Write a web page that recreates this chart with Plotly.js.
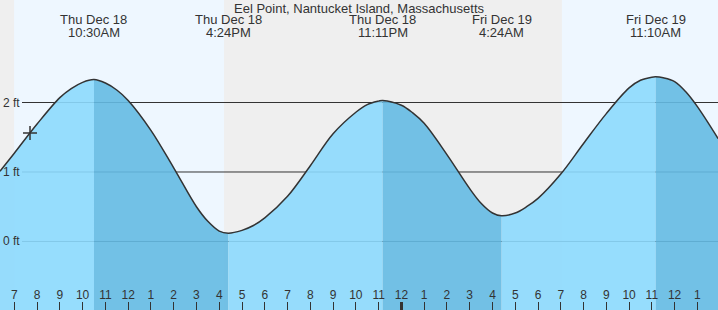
<!DOCTYPE html>
<html>
<head>
<meta charset="utf-8">
<script src="https://cdn.plot.ly/plotly-3.0.1.min.js"></script>
<style>
html,body{margin:0;padding:0;background:#efefef;}
#chart{width:718px;height:310px;}
</style>
</head>
<body>
<div id="chart"></div>
<script>
// Hours since midnight Thu Dec 18 (values > 24 are Fri Dec 19)
const times  = [6.37, 7, 8, 9, 9.5, 10, 10.5, 11, 11.5, 12, 13, 14, 15, 15.5, 16, 16.4, 17, 17.5, 18, 19, 20, 21, 22, 22.5, 23, 23.18, 24, 24.5, 25, 26, 27, 27.5, 28, 28.4, 29, 29.5, 30, 31, 32, 33, 34, 34.5, 35, 35.17, 35.5, 36, 36.5, 37, 37.91];
const levels = [1.01, 1.27, 1.69, 2.07, 2.20, 2.29, 2.33, 2.28, 2.18, 2.03, 1.60, 1.06, 0.50, 0.29, 0.15, 0.12, 0.16, 0.23, 0.34, 0.65, 1.09, 1.55, 1.86, 1.97, 2.02, 2.03, 1.96, 1.85, 1.70, 1.25, 0.76, 0.55, 0.41, 0.37, 0.41, 0.50, 0.62, 0.97, 1.41, 1.84, 2.21, 2.32, 2.365, 2.37, 2.355, 2.30, 2.15, 1.94, 1.48];

// High / low tide events
const eventTimes = [10.5, 16.4, 23.18, 28.4, 35.17];
const eventDays  = ["Thu Dec 18", "Thu Dec 18", "Thu Dec 18", "Fri Dec 19", "Fri Dec 19"];
const eventClock = ["10:30AM", "4:24PM", "11:11PM", "4:24AM", "11:10AM"];
const eventType  = ["high", "low", "high", "low", "high"];

// Daylight periods (sunrise, sunset)
const sunrise = [6.99, 31.05];
const sunset  = [16.21, 40];

// Current time marker
const nowTime  = [7.69];
const nowLevel = [1.56];

// Axis ticks
const tickHours  = [7,8,9,10,11,12,13,14,15,16,17,18,19,20,21,22,23,24,25,26,27,28,29,30,31,32,33,34,35,36,37];
const tickLabels = ["7","8","9","10","11","12","1","2","3","4","5","6","7","8","9","10","11","12","1","2","3","4","5","6","7","8","9","10","11","12","1"];
const midnight = [24];
const levelTicks = [0, 1, 2];
const levelLabels = ["0 ft", "1 ft", "2 ft"];

const title = "Eel Point, Nantucket Island, Massachusetts";

const xRange = [6.372, 37.905];
const yRange = [-0.986, 3.475];
const FLOOR = -3;
const SMOOTH = 1;
const lightFill = "rgba(140,217,253,0.9)";
const darkFill  = "rgba(100,186,227,0.9)";
const ink = "#333333";
const font = "Liberation Sans, Arial, sans-serif";

// split curve into segments at tide events
const breakIdx = [0];
eventTimes.forEach(t => { breakIdx.push(times.indexOf(t)); });
breakIdx.push(times.length - 1);

const traces = [];
for (let s = 0; s < breakIdx.length - 1; s++) {
  const a = breakIdx[s], b = breakIdx[s+1];
  const xs = times.slice(a, b + 1);
  const ys = levels.slice(a, b + 1);
  const falling = s > 0 && eventType[s-1] === "high";
  traces.push({x: xs, y: xs.map(() => FLOOR), mode: "lines", line: {width: 0}, hoverinfo: "skip", showlegend: false});
  traces.push({x: xs, y: ys, mode: "lines", fill: "tonexty", fillcolor: falling ? darkFill : lightFill,
               line: {width: 0, shape: "spline", smoothing: SMOOTH}, hoverinfo: "skip", showlegend: false});
}
traces.push({x: times, y: levels, mode: "lines", line: {color: ink, width: 1.5, shape: "spline", smoothing: SMOOTH},
             hoverinfo: "skip", showlegend: false});
traces.push({x: nowTime, y: nowLevel, mode: "markers",
             marker: {symbol: "cross-thin-open", size: 10, color: ink, line: {color: ink, width: 1.5}},
             hoverinfo: "skip", showlegend: false});
traces.push({x: midnight, y: [FLOOR], xaxis: "x2", mode: "markers", marker: {size: 0, opacity: 0}, hoverinfo: "skip", showlegend: false});

const shapes = [];
for (let i = 0; i < sunrise.length; i++) {
  shapes.push({type: "rect", xref: "x", yref: "paper", x0: sunrise[i], x1: sunset[i], y0: 0, y1: 1,
               fillcolor: "#eef7ff", line: {width: 0}, layer: "below"});
}
levelTicks.forEach(v => {
  shapes.push({type: "line", xref: "paper", yref: "y", x0: 22/718, x1: 1, y0: v, y1: v,
               line: {color: ink, width: 1}, layer: "below"});
});

const annotations = [];
levelTicks.forEach((v, i) => {
  annotations.push({x: 2/718, xref: "paper", y: v, yref: "y", text: levelLabels[i], showarrow: false,
                    xanchor: "left", yanchor: "middle", borderpad: 0,
                    font: {family: font, size: 12, color: ink}});
});
eventTimes.forEach((t, i) => {
  annotations.push({x: t, xref: "x", y: 1 - 20/310, yref: "paper", text: eventDays[i], showarrow: false,
                    xanchor: "center", yanchor: "middle", font: {family: font, size: 13, color: ink}});
  annotations.push({x: t, xref: "x", y: 1 - 32/310, yref: "paper", text: eventClock[i], showarrow: false,
                    xanchor: "center", yanchor: "middle", font: {family: font, size: 13, color: ink}});
});

const layout = {
  width: 718, height: 310,
  margin: {l: 0, r: 0, t: 0, b: 0, pad: 0},
  paper_bgcolor: "#efefef",
  plot_bgcolor: "#efefef",
  title: {text: title, x: 0.5, xanchor: "center", y: 1 - 8/310, yanchor: "middle", yref: "container",
          font: {family: font, size: 13, color: ink}},
  xaxis: {range: xRange, tickvals: tickHours, ticktext: tickLabels, ticks: "inside", ticklen: 8,
          tickwidth: 1, tickcolor: ink, ticklabelposition: "inside", showgrid: false, zeroline: false,
          showline: false, tickfont: {family: font, size: 12, color: ink}, fixedrange: true},
  xaxis2: {range: xRange, overlaying: "x", tickvals: midnight, ticks: "inside", ticklen: 8, tickwidth: 3,
           tickcolor: ink, showticklabels: false, showgrid: false, zeroline: false, showline: false, fixedrange: true},
  yaxis: {range: yRange, showticklabels: false, ticks: "", showgrid: false, zeroline: false, showline: false, fixedrange: true},
  shapes: shapes,
  annotations: annotations,
  showlegend: false
};

Plotly.newPlot("chart", traces, layout, {displayModeBar: false, staticPlot: true});
</script>
</body>
</html>
